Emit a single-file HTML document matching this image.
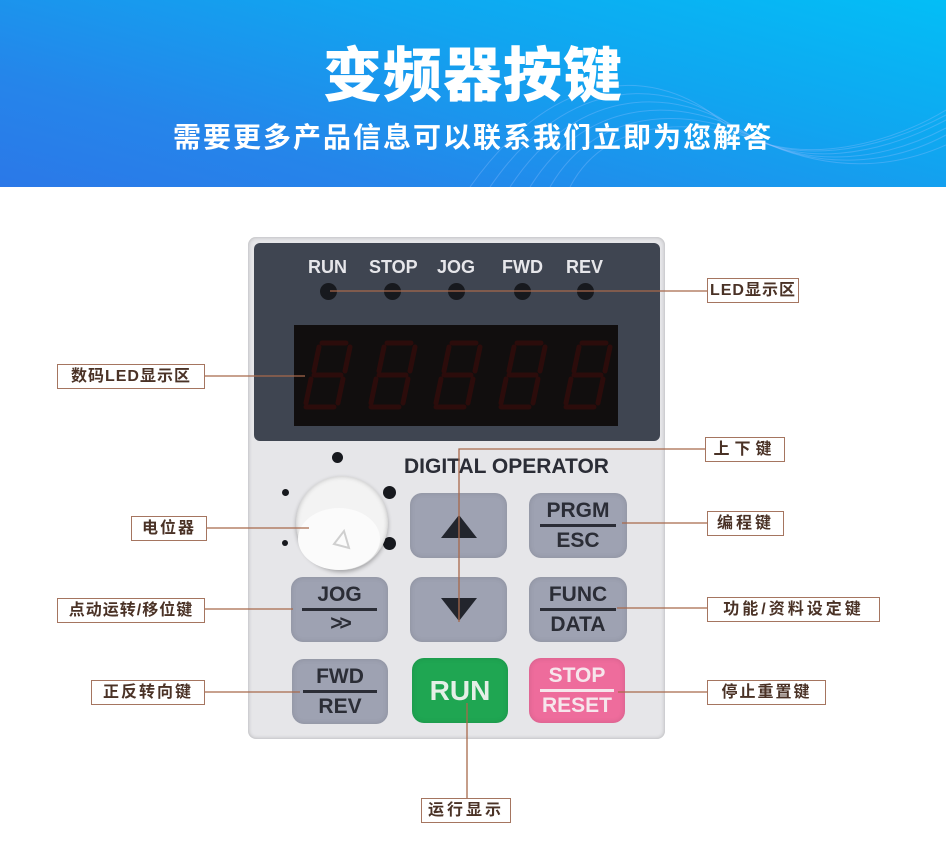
<!DOCTYPE html>
<html><head><meta charset="utf-8"><style>
*{margin:0;padding:0;box-sizing:border-box}
body{width:946px;height:844px;background:#fff;position:relative;overflow:hidden;font-family:"Liberation Sans","Noto Sans CJK SC",sans-serif}
.a{position:absolute}
#hdr{left:0;top:0;width:946px;height:187px;background:linear-gradient(195deg,#03bef6 0%,#10a6f0 35%,#2585ea 75%,#2b78e8 100%);overflow:hidden}
.h1{left:0;width:946px;text-align:center;color:#fff;font-family:"Noto Sans CJK SC",sans-serif;font-weight:900}
.lbl{position:absolute;border:1.5px solid #a57560;background:#fff;color:#4a3226;font-family:"Liberation Sans","Noto Sans CJK SC",sans-serif;font-weight:700;font-size:16px;height:25px;line-height:23px;text-align:center;letter-spacing:1px}
.btn{position:absolute;border-radius:12px;background:#9ea2b2;color:#2b2d36;font-weight:700;text-align:center;box-shadow:inset 0 0 6px rgba(0,0,0,.12)}
.btn .t{position:absolute;left:0;width:100%;font-size:21px}
.btn .bar{position:absolute;left:11%;width:78%;height:3px;background:#2b2d36}
.led{color:#e6e6ea;font-size:18px;font-weight:700;top:257px}
.dot{position:absolute;border-radius:50%;background:#17191e}
</style></head><body>
<div id="hdr" class="a">
<svg class="a" style="left:0;top:0" width="946" height="187">
<g fill="none" stroke="#8fc0ff" stroke-opacity=".35" stroke-width="1">
<path d="M470 187 C560 60 660 70 720 120 S880 150 946 110"/>
<path d="M490 187 C570 70 670 80 730 125 S880 150 946 115"/>
<path d="M510 187 C580 80 680 90 740 130 S880 155 946 120"/>
<path d="M530 187 C590 90 690 100 750 135 S885 160 946 128"/>
<path d="M550 187 C600 100 700 110 760 140 S890 165 946 135"/>
<path d="M570 187 C610 110 710 120 770 145 S890 170 946 145"/>
</g></svg>
<div class="a h1" style="top:34px;font-size:59px;line-height:74px;letter-spacing:1px">变频器按键</div>
<div class="a h1" style="top:117px;font-size:28px;line-height:38px;font-weight:700;letter-spacing:2px">需要更多产品信息可以联系我们立即为您解答</div>
</div>

<!-- panel -->
<div class="a" style="left:248px;top:237px;width:417px;height:502px;background:#e6e6e9;border-radius:8px;box-shadow:inset 0 0 4px rgba(0,0,0,.25)"></div>
<div class="a" style="left:254px;top:243px;width:406px;height:198px;background:#3f4551;border-radius:6px"></div>
<div class="a led" style="left:308px">RUN</div>
<div class="a led" style="left:369px">STOP</div>
<div class="a led" style="left:437px">JOG</div>
<div class="a led" style="left:502px">FWD</div>
<div class="a led" style="left:566px">REV</div>
<div class="dot" style="left:320px;top:283px;width:17px;height:17px"></div>
<div class="dot" style="left:384px;top:283px;width:17px;height:17px"></div>
<div class="dot" style="left:448px;top:283px;width:17px;height:17px"></div>
<div class="dot" style="left:514px;top:283px;width:17px;height:17px"></div>
<div class="dot" style="left:577px;top:283px;width:17px;height:17px"></div>
<div class="a" style="left:294px;top:325px;width:324px;height:101px;background:#110e0e"></div>
<svg class="a" style="left:294px;top:325px" width="324" height="101">
<g fill="none" stroke="#2c0c0b" stroke-width="5" stroke-linecap="round">
<g id="d"><path d="M28 18 L52 18 M25 22 L20 46 M56 22 L51 46 M20 50 L47 50 M17 54 L12 78 M49 54 L44 78 M12 82 L40 82"/></g>
<use href="#d" x="65"/><use href="#d" x="130"/><use href="#d" x="195"/><use href="#d" x="260"/>
</g></svg>

<div class="a" style="left:404px;top:455px;font-size:21px;font-weight:700;color:#2b2d36">DIGITAL OPERATOR</div>
<!-- knob -->
<div class="dot" style="left:332px;top:452px;width:11px;height:11px"></div>
<div class="dot" style="left:282px;top:489px;width:7px;height:7px"></div>
<div class="dot" style="left:383px;top:486px;width:13px;height:13px"></div>
<div class="dot" style="left:282px;top:540px;width:6px;height:6px"></div>
<div class="dot" style="left:383px;top:537px;width:13px;height:13px"></div>
<div class="a" style="left:296px;top:476px;width:92px;height:94px;border-radius:50%;background:#f3f3f3;box-shadow:0 2px 4px rgba(0,0,0,.3),inset 0 0 5px #bbb"></div>
<div class="a" style="left:298px;top:508px;width:82px;height:62px;border-radius:50%;background:#fbfbfb"></div>
<svg class="a" style="left:330px;top:528px" width="24" height="24"><path d="M14 3 L19 20 L4 16 Z" fill="none" stroke="#cfcfcf" stroke-width="2"/></svg>

<!-- buttons -->
<div class="btn" style="left:410px;top:493px;width:97px;height:65px"><svg class="a" style="left:30px;top:20px" width="38" height="26"><path d="M19 2 L37 25 L1 25 Z" fill="#22252d"/></svg></div>
<div class="btn" style="left:529px;top:493px;width:98px;height:65px"><div class="t" style="top:6px">PRGM</div><div class="bar" style="top:31px"></div><div class="t" style="top:36px">ESC</div></div>
<div class="btn" style="left:291px;top:577px;width:97px;height:65px"><div class="t" style="top:6px">JOG</div><div class="bar" style="top:31px"></div><div class="t" style="top:35px;letter-spacing:-3px">&gt;&gt;</div></div>
<div class="btn" style="left:410px;top:577px;width:97px;height:65px"><svg class="a" style="left:30px;top:20px" width="38" height="26"><path d="M1 1 L37 1 L19 24 Z" fill="#22252d"/></svg></div>
<div class="btn" style="left:529px;top:577px;width:98px;height:65px"><div class="t" style="top:6px">FUNC</div><div class="bar" style="top:31px"></div><div class="t" style="top:36px">DATA</div></div>
<div class="btn" style="left:292px;top:659px;width:96px;height:65px"><div class="t" style="top:6px">FWD</div><div class="bar" style="top:31px"></div><div class="t" style="top:36px">REV</div></div>
<div class="btn" style="left:412px;top:658px;width:96px;height:65px;background:#1fa652;color:#e4efe7"><div class="t" style="top:17px;font-size:28px">RUN</div></div>
<div class="btn" style="left:529px;top:658px;width:96px;height:65px;background:#ee6c9c;color:#f6e6ec"><div class="t" style="top:6px">STOP</div><div class="bar" style="top:31px;background:#f6e6ec"></div><div class="t" style="top:36px">RESET</div></div>

<!-- connectors -->
<svg class="a" style="left:0;top:0" width="946" height="844">
<g stroke="#a8694b" stroke-width="1.3" fill="none">
<path d="M330 291 H707"/>
<path d="M205 376 H305"/>
<path d="M459 622 V449 H706"/>
<path d="M207 528 H309"/>
<path d="M622 523 H707"/>
<path d="M205 609 H293"/>
<path d="M617 608 H707"/>
<path d="M205 692 H300"/>
<path d="M618 692 H707"/>
<path d="M467 703 V798"/>
</g></svg>

<div class="lbl" style="left:707px;top:278px;width:92px">LED显示区</div>
<div class="lbl" style="left:57px;top:364px;width:148px">数码LED显示区</div>
<div class="lbl" style="left:705px;top:437px;width:80px;letter-spacing:5px">上下键</div>
<div class="lbl" style="left:131px;top:516px;width:76px;letter-spacing:2px">电位器</div>
<div class="lbl" style="left:707px;top:511px;width:77px;letter-spacing:3px">编程键</div>
<div class="lbl" style="left:57px;top:598px;width:148px">点动运转/移位键</div>
<div class="lbl" style="left:707px;top:597px;width:173px;letter-spacing:3px">功能/资料设定键</div>
<div class="lbl" style="left:91px;top:680px;width:114px;letter-spacing:2px">正反转向键</div>
<div class="lbl" style="left:707px;top:680px;width:119px;letter-spacing:2px">停止重置键</div>
<div class="lbl" style="left:421px;top:798px;width:90px;letter-spacing:3px">运行显示</div>
</body></html>
